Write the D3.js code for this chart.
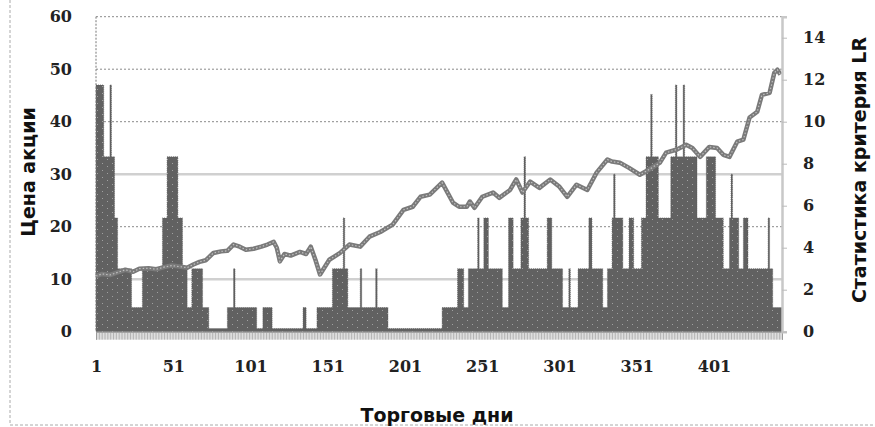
<!DOCTYPE html>
<html>
<head>
<meta charset="utf-8">
<script src="https://cdn.jsdelivr.net/npm/d3@7"></script>
<style>
  body { margin: 0; background: #fff; }
  .tick-num { font-family: "DejaVu Serif", serif; font-weight: bold; font-size: 16px; fill: #222; }
  .title { font-family: "DejaVu Sans", sans-serif; font-weight: bold; font-size: 19px; fill: #111; }
</style>
</head>
<body>
<div id="chart"></div>
<script>
// price (left axis)
var priceDay = [1,5,10,15,20,25,29,35,40,45,50,55,60,64,68,72,77,82,86,90,94,98,103,108,112,116,118,120,123,127,133,137,140,143,146,152,159,165,172,178,185,193,200,206,211,217,225,232,236,241,243,246,251,258,262,269,273,277,282,288,295,301,306,312,319,325,332,335,340,346,353,359,366,370,377,383,387,392,398,403,407,411,416,420,424,429,432,437,440,442,444];
var priceVal = [10.6,11.0,10.8,11.3,11.8,11.4,12.0,12.1,11.9,12.3,12.6,12.4,12.2,12.8,13.3,13.6,15.0,15.3,15.4,16.6,16.2,15.6,15.8,16.2,16.6,17.1,16.0,13.4,14.8,14.5,15.2,14.8,16.2,13.7,10.9,13.7,15.0,16.6,16.2,18.1,19.0,20.4,23.2,23.8,25.7,26.1,28.4,24.6,23.8,23.8,24.8,23.6,25.7,26.5,25.5,27.0,29.0,26.5,28.6,27.4,29.0,27.6,25.7,28.0,27.0,30.3,32.8,32.4,32.2,31.2,29.9,30.9,32.2,34.1,34.7,35.6,35.0,33.3,35.2,35.0,33.7,33.3,36.2,36.6,40.8,41.9,45.1,45.5,49.3,49.9,49.0];

// LR statistic (right axis): each level holds from lrFrom[i] until the next start
var lrFrom = [1,6,10,11,13,15,24,31,44,47,54,57,60,63,70,74,86,90,91,105,109,115,135,137,144,154,161,162,164,172,173,182,183,190,225,235,239,242,248,249,252,255,264,268,271,276,278,279,281,293,296,303,307,308,313,320,322,329,332,335,336,337,342,346,349,354,357,360,361,365,373,376,377,381,382,390,396,402,407,411,412,413,417,420,423,436,437,439];
var lrVal  = [11.75,8.33,11.75,8.33,5.42,3.0,1.15,3.0,5.42,8.33,5.42,3.0,1.15,3.0,1.15,0.15,1.15,3.0,1.15,0.15,1.15,0.15,1.15,0.15,1.15,3.0,5.42,3.0,1.15,3.0,1.15,3.0,1.15,0.15,1.15,3.0,1.15,3.0,5.42,3.0,5.42,3.0,1.15,5.42,3.0,5.42,8.33,5.42,3.0,5.42,3.0,1.15,3.0,1.15,3.0,5.42,3.0,1.15,3.0,5.42,7.5,5.42,3.0,5.42,3.0,5.42,8.33,11.3,8.33,5.42,8.33,11.75,8.33,11.75,8.33,5.42,8.33,5.42,3.0,5.42,7.5,5.42,3.0,5.42,3.0,5.42,3.0,1.15];
var lastDay = 445;

var leftTicks = [0,10,20,30,40,50,60];
var rightTicks = [0,2,4,6,8,10,12,14];
var dayTicks = [1,51,101,151,201,251,301,351,401];

var width = 875, height = 427;
var plotL = 96, plotR = 782, plotT = 16.7, plotB = 331.7;

var svg = d3.select("#chart").append("svg")
    .attr("width", width)
    .attr("height", height);

svg.append("rect").attr("width", width).attr("height", height).attr("fill", "#fff");

var x = d3.scaleLinear().domain([1, lastDay]).range([plotL, plotR]);
var yL = d3.scaleLinear().domain([0, 60]).range([plotB, plotT]);
var yR = d3.scaleLinear().domain([0, 15]).range([plotB, plotT]);

// dotted fill for the LR area
var defs = svg.append("defs");
var pat = defs.append("pattern")
    .attr("id", "dots")
    .attr("patternUnits", "userSpaceOnUse")
    .attr("width", 10).attr("height", 7);
pat.append("rect").attr("width", 10).attr("height", 7).attr("fill", "#616161");
pat.append("rect").attr("x", 2).attr("y", 2).attr("width", 1).attr("height", 1).attr("fill", "#a0a0a0");
pat.append("rect").attr("x", 7).attr("y", 5).attr("width", 1).attr("height", 1).attr("fill", "#a0a0a0");

// outer dashed frame
svg.append("line").attr("x1", 10).attr("x2", 10).attr("y1", 0).attr("y2", 425)
    .attr("stroke", "#aaa").attr("stroke-dasharray", "3,2");
svg.append("line").attr("x1", 10).attr("x2", width).attr("y1", 425).attr("y2", 425)
    .attr("stroke", "#aaa").attr("stroke-dasharray", "3,2");

// gridlines
var grid = svg.append("g");
leftTicks.filter(function(t) { return t > 0; }).forEach(function(t) {
  var solid = (t == 10 || t == 30);
  grid.append("line")
    .attr("x1", plotL).attr("x2", plotR)
    .attr("y1", yL(t)).attr("y2", yL(t))
    .attr("stroke", solid ? "#d0d0d0" : "#8a8a8a")
    .attr("stroke-width", solid ? 2.5 : 1)
    .attr("stroke-dasharray", solid ? null : "2,2");
});

// LR area, one step per run
var lrPts = lrFrom.map(function(d, i) { return [d, lrVal[i]]; });
lrPts.push([lastDay, lrVal[lrVal.length - 1]]);

var area = d3.area()
    .curve(d3.curveStepAfter)
    .x(function(d) { return x(d[0]); })
    .y0(plotB)
    .y1(function(d) { return yR(d[1]); });

svg.append("path")
    .datum(lrPts)
    .attr("d", area)
    .attr("fill", "url(#dots)")
    .attr("stroke", "#555")
    .attr("stroke-width", 0.6)
    .attr("stroke-dasharray", "1,1");

// price line
var priceData = priceDay.map(function(d, i) { return [d, priceVal[i]]; });
var line = d3.line()
    .x(function(d) { return x(d[0]); })
    .y(function(d) { return yL(d[1]); });

svg.append("path").datum(priceData).attr("d", line)
    .attr("fill", "none").attr("stroke", "#7a7a7a").attr("stroke-width", 4.5)
    .attr("stroke-linejoin", "round");
svg.append("path").datum(priceData).attr("d", line)
    .attr("fill", "none").attr("stroke", "#c0c0c0").attr("stroke-width", 1.2)
    .attr("stroke-dasharray", "1.5,2");

// left axis line
svg.append("line").attr("x1", plotL).attr("x2", plotL).attr("y1", plotT).attr("y2", plotB)
    .attr("stroke", "#777").attr("stroke-dasharray", "2,1.5");

// x axis: dense day ticks + labels
var xTicks = svg.append("g")
    .attr("transform", "translate(0," + plotB + ")")
    .call(d3.axisBottom(x).tickValues(d3.range(1, lastDay + 1)).tickSize(8).tickFormat(""));
xTicks.select(".domain").attr("stroke", "#888");
xTicks.selectAll(".tick line").attr("stroke", "#a0a0a0").attr("stroke-width", 0.8);

var xLab = svg.append("g")
    .attr("transform", "translate(0," + plotB + ")")
    .call(d3.axisBottom(x).tickValues(dayTicks).tickSize(0).tickPadding(29));
xLab.select(".domain").remove();
xLab.selectAll("text").attr("class", "tick-num");

// left axis labels
var yLab = svg.append("g")
    .attr("transform", "translate(" + plotL + ",0)")
    .call(d3.axisLeft(yL).tickValues(leftTicks).tickSize(0).tickPadding(24));
yLab.select(".domain").remove();
yLab.selectAll("text").attr("class", "tick-num");

// right axis
var yRax = svg.append("g")
    .attr("transform", "translate(" + plotR + ",0)")
    .call(d3.axisRight(yR).tickValues(rightTicks).tickSize(5).tickPadding(16));
yRax.select(".domain").attr("stroke", "#c8c8c8").attr("stroke-width", 2.5);
yRax.selectAll(".tick line").attr("stroke", "#bbb");
yRax.selectAll("text").attr("class", "tick-num");

// titles
svg.append("text").attr("class", "title")
    .attr("transform", "translate(35,172) rotate(-90)")
    .attr("text-anchor", "middle")
    .text("Цена акции");
svg.append("text").attr("class", "title")
    .attr("transform", "translate(866,170) rotate(-90)")
    .attr("text-anchor", "middle")
    .text("Статистика критерия LR");
svg.append("text").attr("class", "title")
    .attr("x", 437).attr("y", 422)
    .attr("text-anchor", "middle")
    .text("Торговые дни");
</script>
</body>
</html>
